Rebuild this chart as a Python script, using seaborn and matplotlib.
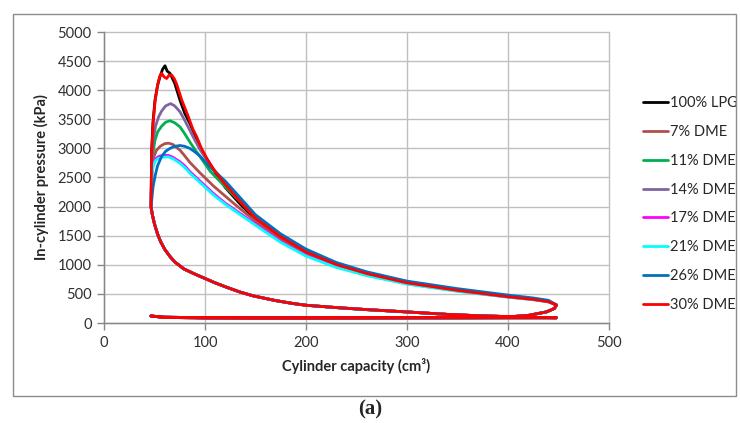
import numpy as np
import pandas as pd
import matplotlib
matplotlib.use("Agg")
import matplotlib.pyplot as plt
import seaborn as sns
from matplotlib.patches import Rectangle

sns.set_theme(style="white")
plt.rcParams['font.family'] = ['Lato', 'DejaVu Sans']

series_names = ["100% LPG", "7% DME", "11% DME", "14% DME",
                "17% DME", "21% DME", "26% DME", "30% DME"]
series_colors = ["#000000", "#B0504D", "#00B050", "#8064A2",
                 "#FF00FF", "#00FFFF", "#0070C0", "#FF0000"]

# Shared low-pressure parts of the cycle (intake, compression, blowdown, exhaust)
V_intake = [46.5, 60, 100, 150, 200, 250, 300, 350, 400, 430, 448]
P_intake = [120, 95, 88, 85, 85, 85, 87, 88, 90, 90, 90]

V_comp = [448, 420, 400, 370, 340, 300, 260, 230, 200, 187, 170, 148, 135,
          122, 110, 100, 90, 79, 70, 65, 60, 56, 53, 50, 48, 46.5]
P_comp = [90, 100, 110, 125, 148, 190, 230, 265, 305, 335, 385, 465, 530,
          610, 690, 765, 840, 930, 1050, 1150, 1270, 1400, 1530, 1700, 1850, 2000]

V_blow = [448, 446, 438, 420, 400, 370]
P_blow = [310, 250, 190, 130, 105, 98]

V_exh = [350, 300, 250, 200, 150, 100, 60, 46.5]
P_exh = [95, 92, 90, 88, 88, 90, 100, 120]

# Combustion / early expansion per series
V_head = {
    "100% LPG": [46.5, 47.2, 48.5, 50.5, 53, 55.4, 58, 60.4, 62.5, 65.3, 70, 75.2, 80, 85, 90, 95, 100, 110],
    "7% DME":   [46.5, 47.5, 49, 52, 56, 60, 63.7, 68, 75.2, 80, 85, 90, 95, 108],
    "11% DME":  [46.5, 47.5, 49, 50.5, 53, 57, 61, 65.3, 70, 75.2, 80, 85, 90, 95, 105],
    "14% DME":  [46.5, 47.5, 48.8, 51, 54, 57, 61, 66, 70, 75.2, 80, 85, 90, 95, 105],
    "17% DME":  [46.5, 47.3, 48.8, 51, 54, 58, 63.7, 68, 75.2, 80, 85, 90, 95, 108],
    "21% DME":  [46.5, 47.3, 48.8, 51, 54, 58, 63.7, 68, 75.2, 80, 85, 90, 95, 108],
    "26% DME":  [46.5, 47.2, 48.5, 50.5, 53, 57, 61, 65.3, 70, 75.2, 80, 85, 90, 95, 105],
    "30% DME":  [46.5, 47.2, 48.5, 50.5, 53, 55, 57, 59.5, 62, 64.5, 67, 69.5, 72, 77, 80, 83.5, 88, 91.8, 96, 101.7, 110],
}
P_head = {
    "100% LPG": [2000, 2970, 3450, 3830, 4080, 4230, 4360, 4420, 4330, 4290, 4120, 3830, 3600, 3430, 3230, 3000, 2870, 2590],
    "7% DME":   [2000, 2600, 2840, 2970, 3040, 3080, 3090, 3070, 2970, 2870, 2760, 2670, 2580, 2360],
    "11% DME":  [2000, 2700, 2980, 3140, 3280, 3380, 3450, 3475, 3440, 3370, 3250, 3110, 2980, 2860, 2610],
    "14% DME":  [2000, 2800, 3150, 3380, 3540, 3640, 3730, 3770, 3730, 3630, 3480, 3310, 3140, 2980, 2720],
    "17% DME":  [2000, 2550, 2740, 2820, 2860, 2880, 2880, 2850, 2770, 2700, 2600, 2520, 2440, 2230],
    "21% DME":  [2000, 2520, 2710, 2790, 2830, 2850, 2855, 2825, 2745, 2670, 2575, 2495, 2415, 2205],
    "26% DME":  [2000, 2100, 2330, 2520, 2700, 2860, 2950, 3000, 3035, 3050, 3035, 3000, 2940, 2870, 2680],
    "30% DME":  [2000, 2900, 3400, 3800, 4080, 4230, 4290, 4230, 4200, 4260, 4260, 4200, 4100, 3830, 3700, 3545, 3330, 3200, 3020, 2830, 2600],
}

# Late expansion per series
V_tail = [120, 135, 150, 175, 200, 230, 260, 300, 350, 400, 425, 440]
P_tail = {
    "100% LPG": [2330, 2040, 1780, 1460, 1210, 1000, 850, 695, 565, 455, 410, 370],
    "7% DME":   [2180, 1960, 1750, 1445, 1200, 990, 840, 685, 560, 452, 408, 368],
    "11% DME":  [2340, 2080, 1810, 1490, 1230, 1015, 860, 700, 570, 460, 412, 372],
    "14% DME":  [2400, 2110, 1830, 1505, 1245, 1025, 868, 707, 575, 465, 418, 378],
    "17% DME":  [2060, 1880, 1700, 1400, 1160, 965, 825, 675, 550, 447, 403, 365],
    "21% DME":  [2040, 1860, 1680, 1385, 1150, 955, 815, 668, 545, 443, 400, 362],
    "26% DME":  [2440, 2150, 1860, 1530, 1270, 1040, 880, 720, 590, 480, 430, 390],
    "30% DME":  [2380, 2080, 1800, 1480, 1220, 1005, 850, 690, 560, 450, 405, 365],
}

rows = []
for name in series_names:
    V = V_intake + V_comp + V_head[name] + V_tail + V_blow + V_exh
    P = P_intake + P_comp + P_head[name] + P_tail[name] + P_blow + P_exh
    for i, (v, p) in enumerate(zip(V, P)):
        rows.append({"series": name, "order": i, "V": v, "P": p})
df = pd.DataFrame(rows)

fig = plt.figure(figsize=(7.4, 4.23), dpi=100)
ax = fig.add_axes([104 / 740, 1 - 323 / 423, (609 - 104) / 740, (323 - 32) / 423])

sns.lineplot(data=df, x="V", y="P", hue="series", hue_order=series_names,
             palette=dict(zip(series_names, series_colors)),
             sort=False, estimator=None, lw=2.0, ax=ax, legend=True)

ax.set_xlim(0, 500)
ax.set_ylim(0, 5000)
ax.set_xticks(np.arange(0, 501, 100))
ax.set_yticks(np.arange(0, 5001, 500))
ax.grid(True, color="#BFBFBF", lw=1.0)
for gl in ax.get_xgridlines() + ax.get_ygridlines():
    gl.set_clip_on(False)
ax.set_axisbelow(True)
for s in ["top", "right"]:
    ax.spines[s].set_visible(False)
for s in ["left", "bottom"]:
    ax.spines[s].set_color("#868686")
    ax.spines[s].set_linewidth(1.0)
ax.tick_params(axis="both", which="major", direction="out", length=5,
               width=1.0, color="#868686", labelsize=10.5, labelcolor="#303030",
               left=True, bottom=True, pad=4)
ax.set_xlabel("Cylinder capacity (cm³)", fontsize=10.5, fontweight="bold", labelpad=6)
ax.set_ylabel("In-cylinder pressure (kPa)", fontsize=10.5, fontweight="bold", labelpad=6)

handles, labels = ax.get_legend_handles_labels()
ax.legend(handles, labels, loc="upper left", bbox_to_anchor=(643 / 740, 1 - 96 / 423),
          bbox_transform=fig.transFigure, frameon=False, fontsize=10.5,
          handlelength=1.7, handletextpad=0.15, labelspacing=1.02,
          borderpad=0, borderaxespad=0)

fig.patches.append(Rectangle((13 / 740, 1 - 396 / 423), (736 - 13) / 740, (396 - 14) / 423,
                             transform=fig.transFigure, fill=False,
                             edgecolor="#8C8C8C", lw=1.0))
fig.text(370 / 740, 1 - 409 / 423, "(a)", ha="center", va="center",
         fontsize=15, fontweight="bold", family=["Liberation Serif", "DejaVu Serif"])

fig.savefig("out.png", dpi=100)
